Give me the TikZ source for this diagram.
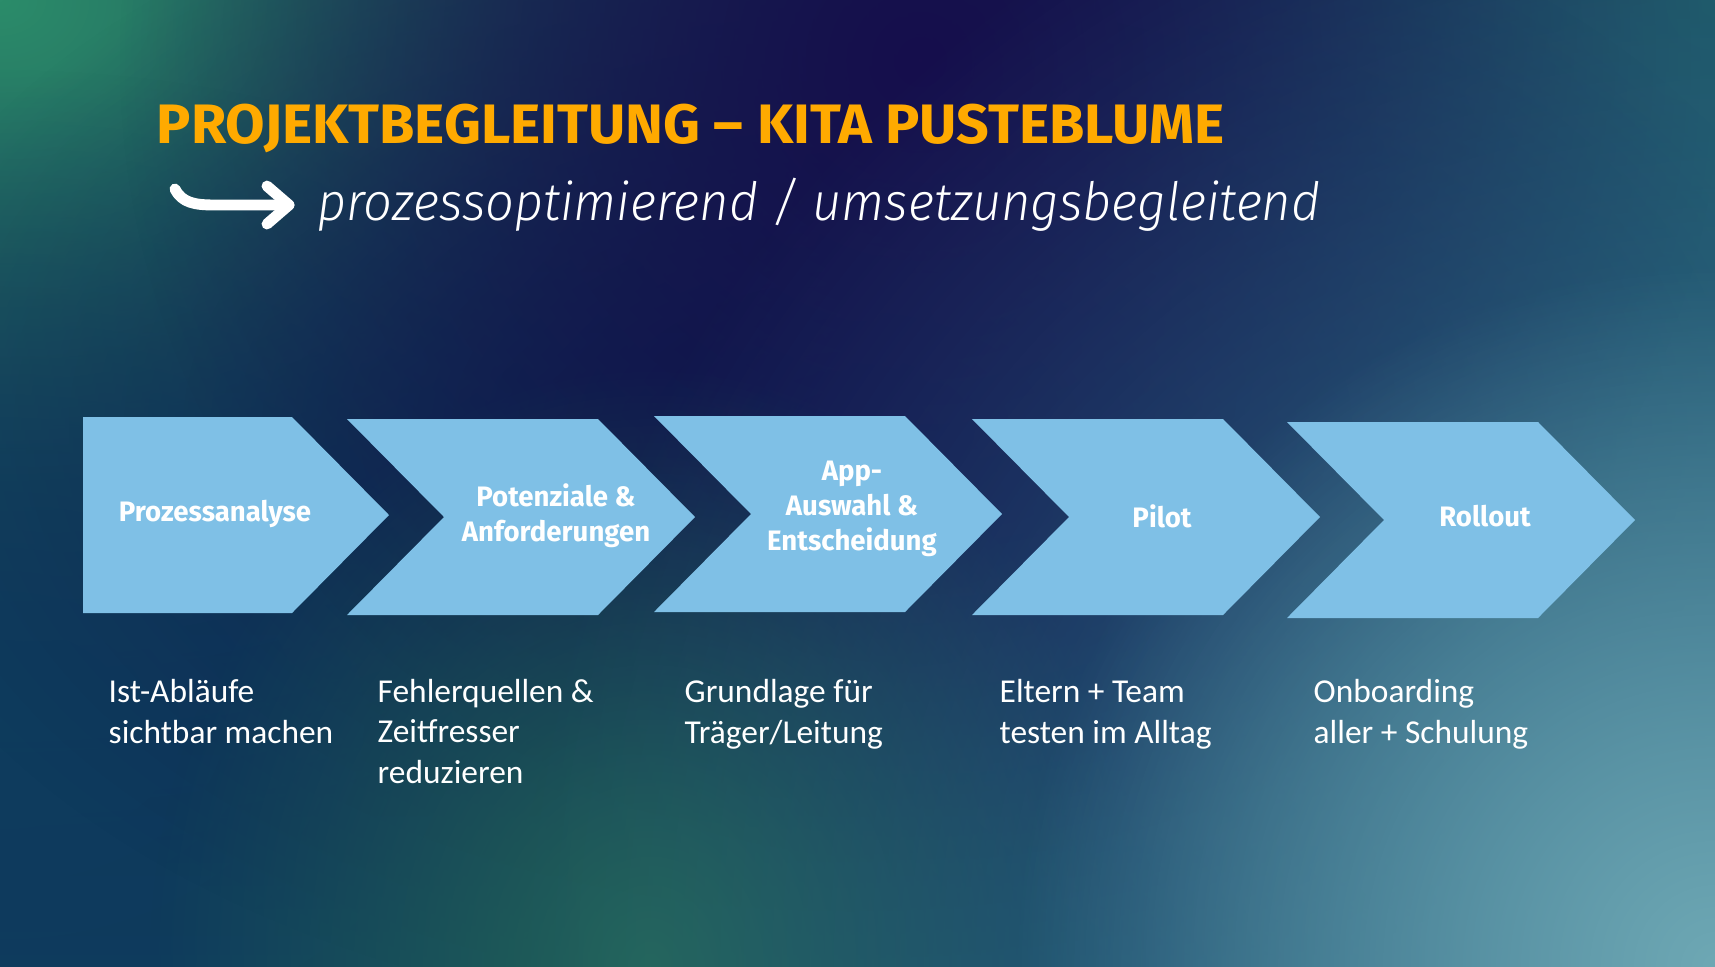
\documentclass[tikz,border=0pt]{standalone}
\usepackage{fontspec}
\setmainfont{Carlito}
\newfontfamily\titlefont[FakeStretch=1.03]{Fira Sans}
\newfontfamily\labelfont[FakeStretch=0.98]{Fira Sans}
\newfontfamily\subfont[FakeStretch=0.96,ItalicFont={Fira Sans Light Italic}]{Fira Sans Light}
\usetikzlibrary{fadings}
\definecolor{titleorange}{RGB}{255,170,0}
\definecolor{chevronblue}{RGB}{127,192,230}
\definecolor{bgtop}{RGB}{18,16,76}
\definecolor{bgmid}{RGB}{11,28,78}
\definecolor{bgbottom}{RGB}{14,58,92}
\definecolor{glowgreen}{RGB}{43,140,106}
\definecolor{glowpurple}{RGB}{22,14,76}
\definecolor{glownavy}{RGB}{11,26,76}
\definecolor{glowteal}{RGB}{27,88,98}
\definecolor{glowside}{RGB}{30,88,106}
\definecolor{glowblue}{RGB}{52,110,140}
\definecolor{glowlight}{RGB}{110,168,180}
\definecolor{glowsea}{RGB}{35,101,88}
\definecolor{glowdeep}{RGB}{14,60,94}
\tikzfading[name=glow, inner color=transparent!0, outer color=transparent!100]
\begin{document}
\begin{tikzpicture}[x=0.01cm,y=-0.01cm,
  chevron/.style={fill=chevronblue},
  steplabel/.style={text=white,align=center,inner sep=0,
    font=\labelfont\bfseries\fontsize{8}{10}\selectfont},
  note/.style={text=white,align=left,anchor=base west,inner sep=0,
    font=\fontsize{9.5}{11.4}\selectfont}]
\useasboundingbox (0,0) rectangle (1715,966);
% background
\begin{scope}
\clip (0,0) rectangle (1715,966);
\shade[top color=bgtop,middle color=bgmid,bottom color=bgbottom] (0,0) rectangle (1715,966);
\fill[glowteal,path fading=glow] (1715,0) circle [radius=12cm];
\fill[glowside,path fading=glow] (1715,480) circle [x radius=7cm,y radius=8cm];
\fill[glowgreen,path fading=glow] (0,0) circle [x radius=11cm,y radius=8.5cm];
\fill[glowdeep,path fading=glow] (0,720) circle [x radius=9cm,y radius=6.5cm];
\fill[glownavy,path fading=glow] (850,430) circle [x radius=10cm,y radius=6cm];
\fill[glowpurple,path fading=glow] (920,60) circle [radius=8cm];
\fill[glowsea,path fading=glow] (650,966) circle [x radius=5cm,y radius=6cm];
\fill[glowblue,path fading=glow] (1715,966) circle [radius=12cm];
\fill[glowlight,path fading=glow] (1715,966) circle [radius=7cm];
\end{scope}
% title
\node[anchor=base west,inner sep=0,text=titleorange,
  font=\titlefont\bfseries\fontsize{15.8}{19}\selectfont] (title) at (156,143)
  {PROJEKTBEGLEITUNG – KITA PUSTEBLUME};
\node[anchor=base west,inner sep=0,text=white,
  font=\subfont\itshape\fontsize{15}{18}\selectfont] (subtitle) at (317,220)
  {prozessoptimierend / umsetzungsbegleitend};
\coordinate (arrowtail) at (175,189);
\coordinate (arrowtip) at (289,205);
\draw[white,line width=3.1pt,line cap=round,line join=round]
  (arrowtail) .. controls (182,203) and (195,205) .. (215,205) -- (arrowtip);
\draw[white,line width=3.1pt,line cap=round,line join=round]
  (267,186) -- (arrowtip) -- (267,224);
% chevrons
\fill[chevron](83,417)--++(209,0)--++(97,98)--++(-97,98)--++(-209,0)--cycle;
\foreach \cx/\cy in {347/419,654/416,972/419,1287/422}
  \fill[chevron](\cx,\cy)--++(251,0)--++(97,98)--++(-97,98)--++(-251,0)--++(97,-98)--cycle;
\node[steplabel] (analyse) at (215,514) {Prozessanalyse};
\node[steplabel] (potenziale) at (556,516) {Potenziale \&\\Anforderungen};
\node[steplabel] (auswahl) at (852,509) {App-\\Auswahl \&\\Entscheidung};
\node[steplabel] (pilot) at (1162,516) {Pilot};
\node[steplabel] (rollout) at (1485,516) {Rollout};
% notes (anchor is the last line)
\node[note] (istnote) at (108,743) {Ist-Abläufe\\sichtbar machen};
\node[note] (fehlernote) at (377,783) {Fehlerquellen \&\\Zeitfresser\\reduzieren};
\node[note] (grundnote) at (684,743) {Grundlage für\\Träger/Leitung};
\node[note] (pilotnote) at (999,743) {Eltern + Team\\testen im Alltag};
\node[note] (rolloutnote) at (1313,743) {Onboarding\\aller + Schulung};
\end{tikzpicture}
\end{document}
